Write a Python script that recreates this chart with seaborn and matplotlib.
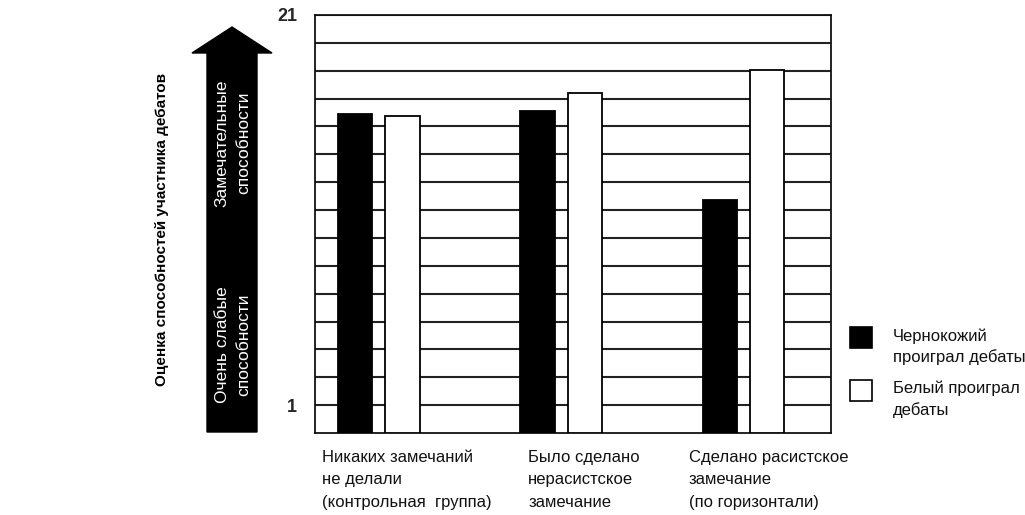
import matplotlib
matplotlib.use("Agg")
import matplotlib.pyplot as plt
import matplotlib.patches as mpatches
import numpy as np
import pandas as pd
import seaborn as sns
from matplotlib import font_manager

# ---------------- data ----------------
conditions = [
    "Никаких замечаний\nне делали\n(контрольная  группа)",
    "Было сделано\nнерасистское\nзамечание",
    "Сделано расистское\nзамечание\n(по горизонтали)",
]
series_names = ["Чернокожий\nпроиграл дебаты", "Белый проиграл\nдебаты"]
series_colors = ["black", "white"]
black_lost = [15.9, 16.1, 11.5]
white_lost = [15.8, 17.0, 18.2]
y_tick_values = [1, 21]
y_tick_labels = ["1", "21"]
y_label = "Оценка способностей участника дебатов"
arrow_top_text = "Замечательные\nспособности"
arrow_bottom_text = "Очень слабые\nспособности"

# ---------------- style ----------------
sns.set_theme(style="white")
avail = {f.name for f in font_manager.fontManager.ttflist}
narrow = "Liberation Sans Narrow" if "Liberation Sans Narrow" in avail else "Liberation Sans"
plt.rcParams["font.family"] = [narrow, "DejaVu Sans"]

df = pd.DataFrame({
    "condition": conditions * 2,
    "group": [series_names[0]] * 3 + [series_names[1]] * 3,
    "value": black_lost + white_lost,
})

W, H = 1025, 515
fig = plt.figure(figsize=(W / 100, H / 100), dpi=100)
fig.patch.set_facecolor("white")

def fx(px):
    return px / W

def fy(py):
    return 1 - py / H

ax = fig.add_axes([fx(315), fy(433), fx(831) - fx(315), fy(15) - fy(433)])
ax.set_facecolor("white")

sns.barplot(
    data=df, x="condition", y="value", hue="group",
    palette=dict(zip(series_names, series_colors)),
    width=0.52, gap=0.28, edgecolor="black", linewidth=1.3,
    ax=ax, legend=False, zorder=3,
)

step = (y_tick_values[1] - y_tick_values[0]) / 14.0
ybot = y_tick_values[0] - step
ax.set_ylim(ybot, y_tick_values[1])
ax.set_xlim(-0.35, 2.48)

# extend bars down to the bottom frame
for p in ax.patches:
    h = p.get_height()
    p.set_y(ybot)
    p.set_height(h - ybot)

grid_levels = y_tick_values[0] + step * np.arange(0, 15)
ax.set_yticks(grid_levels, minor=True)
ax.set_yticks(y_tick_values)
ax.set_yticklabels(y_tick_labels, fontsize=13, fontweight="bold")
ax.tick_params(axis="y", which="both", length=0, pad=13)
ax.yaxis.grid(True, which="both", color="#222222", linewidth=1.5)
ax.xaxis.grid(False)
ax.set_axisbelow(True)
for s in ax.spines.values():
    s.set_visible(True)
    s.set_color("#111111")
    s.set_linewidth(1.3)

ax.set_xticks([])
ax.set_xlabel("")
ax.set_ylabel("")

label_offsets = [-0.31, -0.18, -0.30]
for i, (lab, off) in enumerate(zip(conditions, label_offsets)):
    ax.text(i + off, -0.04, lab, transform=ax.get_xaxis_transform(),
            ha="left", va="top", fontsize=12, color="#111111", linespacing=1.62)

# big arrow on the left
pts_px = [(207, 432), (257, 432), (257, 53), (272, 53), (232, 27), (192, 53), (207, 53)]
arrow = mpatches.Polygon([(fx(x), fy(y)) for x, y in pts_px], closed=True,
                         transform=fig.transFigure, facecolor="black", edgecolor="black")
fig.patches.append(arrow)

fig.text(fx(233), fy(143), arrow_top_text, rotation=90, color="white",
         ha="center", va="center", multialignment="center", fontsize=12.5, linespacing=1.55)
fig.text(fx(233), fy(345), arrow_bottom_text, rotation=90, color="white",
         ha="center", va="center", multialignment="center", fontsize=12.5, linespacing=1.55)
fig.text(fx(162), fy(229), y_label, rotation=90, color="black",
         ha="center", va="center", fontsize=11, fontweight="bold")

# legend (squares with two-line labels whose first line sits level with the square)
legend_rows_px = [327, 380]
for name, col, ytop in zip(series_names, series_colors, legend_rows_px):
    sq = mpatches.Rectangle((fx(850), fy(ytop + 21)), fx(872) - fx(850), fy(ytop) - fy(ytop + 21),
                            transform=fig.transFigure, facecolor=col, edgecolor="black", linewidth=1.2)
    fig.patches.append(sq)
    fig.text(fx(893), fy(ytop + 1), name, ha="left", va="top", fontsize=12,
             color="#111111", linespacing=1.45)

fig.savefig("out.png", dpi=100, facecolor="white")
